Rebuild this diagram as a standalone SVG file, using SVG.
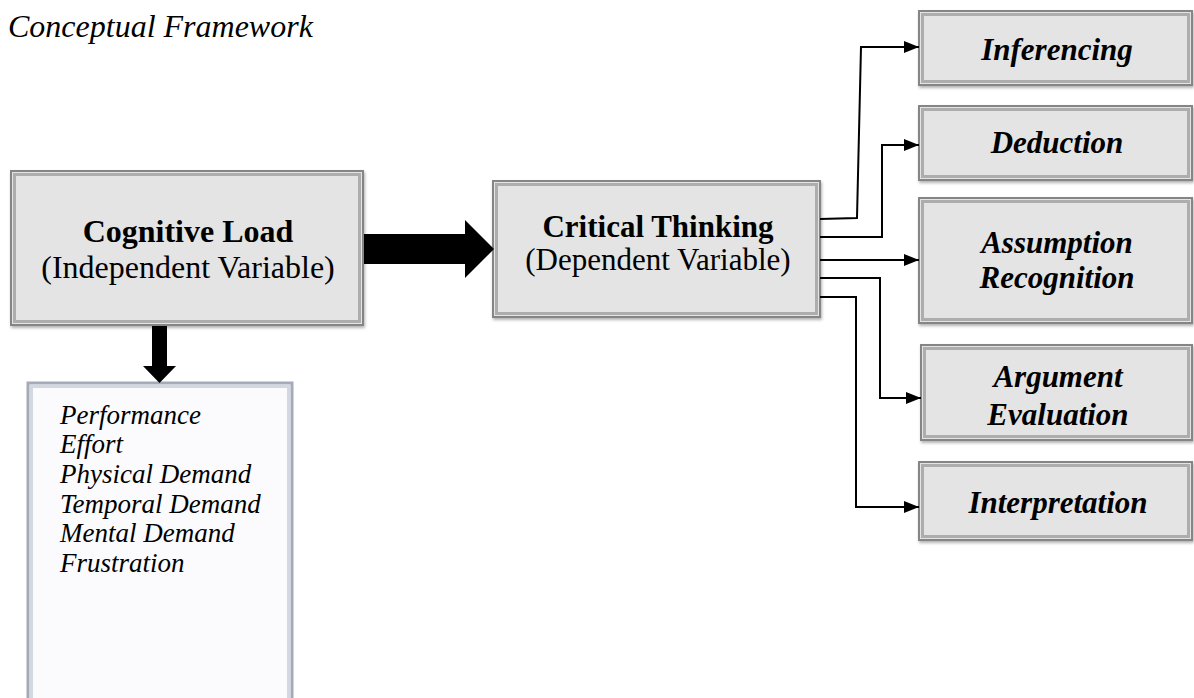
<svg xmlns="http://www.w3.org/2000/svg" width="1194" height="698" viewBox="0 0 1194 698">
<style>
.box{fill:#e4e4e4;stroke:#858585;stroke-width:2}
.bevel{fill:none;stroke:#adadad;stroke-width:3}
.t{font-family:"Liberation Serif","Times New Roman",serif;fill:#000}
.b{font-weight:bold}
.i{font-style:italic}
.c{text-anchor:middle}
.conn{fill:none;stroke:#000;stroke-width:2}
</style>
<defs>
<marker id="ah" markerUnits="userSpaceOnUse" markerWidth="16" markerHeight="14" refX="15" refY="6" orient="auto">
<path d="M0,0 L15,6 L0,12 z" fill="#000"/>
</marker>
<filter id="sh" x="-5%" y="-5%" width="110%" height="115%">
<feDropShadow dx="1" dy="2" stdDeviation="1.5" flood-color="#000" flood-opacity="0.3"/>
</filter>
</defs>
<text class="t i" x="8" y="37" font-size="32">Conceptual Framework</text>

<g id="cognitive-load">
<rect class="box" x="11" y="171" width="352" height="154" filter="url(#sh)"/>
<rect class="bevel" x="14.5" y="174.5" width="345" height="147"/>
<text class="t b c" x="188" y="242" font-size="32">Cognitive Load</text>
<text class="t c" x="188" y="278" font-size="32">(Independent Variable)</text>
</g>

<g id="critical-thinking">
<rect class="box" x="493" y="181" width="327" height="136" filter="url(#sh)"/>
<rect class="bevel" x="496.5" y="184.5" width="320" height="129"/>
<text class="t b c" x="658" y="237" font-size="31">Critical Thinking</text>
<text class="t c" x="658" y="270" font-size="31">(Dependent Variable)</text>
</g>

<g id="dimensions">
<rect x="28" y="383" width="264" height="330" fill="#fbfbfd" stroke="#a3abb8" stroke-width="3"/>
<rect x="31.5" y="386.5" width="257" height="330" fill="none" stroke="#d3d8e0" stroke-width="3"/>
<text class="t i" font-size="27">
<tspan x="60" y="424">Performance</tspan>
<tspan x="60" y="453">Effort</tspan>
<tspan x="60" y="483">Physical Demand</tspan>
<tspan x="60" y="513">Temporal Demand</tspan>
<tspan x="60" y="542">Mental Demand</tspan>
<tspan x="60" y="572">Frustration</tspan>
</text>
</g>

<g id="inferencing">
<rect class="box" x="919" y="11" width="273" height="74" filter="url(#sh)"/>
<rect class="bevel" x="922.5" y="14.5" width="266" height="67"/>
<text class="t b i c" x="1057" y="60" font-size="31">Inferencing</text>
</g>
<g id="deduction">
<rect class="box" x="919" y="106" width="273" height="74" filter="url(#sh)"/>
<rect class="bevel" x="922.5" y="109.5" width="266" height="67"/>
<text class="t b i c" x="1057" y="153" font-size="31">Deduction</text>
</g>
<g id="assumption-recognition">
<rect class="box" x="919" y="198" width="273" height="125" filter="url(#sh)"/>
<rect class="bevel" x="922.5" y="201.5" width="266" height="118"/>
<text class="t b i c" x="1057" y="253" font-size="31">Assumption</text>
<text class="t b i c" x="1057" y="288" font-size="31">Recognition</text>
</g>
<g id="argument-evaluation">
<rect class="box" x="921" y="345" width="271" height="95" filter="url(#sh)"/>
<rect class="bevel" x="924.5" y="348.5" width="264" height="88"/>
<text class="t b i c" x="1058" y="387" font-size="31">Argument</text>
<text class="t b i c" x="1058" y="425" font-size="31">Evaluation</text>
</g>
<g id="interpretation">
<rect class="box" x="919" y="462" width="273" height="78" filter="url(#sh)"/>
<rect class="bevel" x="922.5" y="465.5" width="266" height="71"/>
<text class="t b i c" x="1058" y="513" font-size="31">Interpretation</text>
</g>

<g id="connectors">
<polygon points="364,234 465,234 465,220 494,249 465,278 465,264 364,264" fill="#000"/>
<polygon points="152,326 167,326 167,366 176,366 159.5,383 143,366 152,366" fill="#000"/>
<path class="conn" d="M820,219 L857,218 L861,47 L919,47" marker-end="url(#ah)"/>
<path class="conn" d="M820,237 L882,237 L882,145 L919,145" marker-end="url(#ah)"/>
<path class="conn" d="M820,260 L919,260" marker-end="url(#ah)"/>
<path class="conn" d="M820,278 L880,278 L880,398 L921,398" marker-end="url(#ah)"/>
<path class="conn" d="M820,297 L856,297 L856,507 L919,507" marker-end="url(#ah)"/>
</g>
</svg>
